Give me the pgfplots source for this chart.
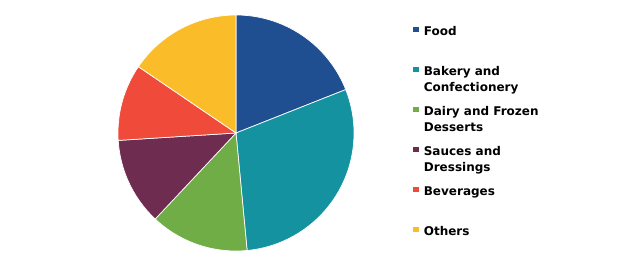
\documentclass[border=0pt]{standalone}
\usepackage{pgfplots}
\pgfplotsset{compat=1.18}
\usepackage{fontspec}
\setmainfont{DejaVu Sans}
\definecolor{cFood}{HTML}{1F4E91}
\definecolor{cBak}{HTML}{1592A0}
\definecolor{cDai}{HTML}{70AD47}
\definecolor{cSau}{HTML}{6E2C50}
\definecolor{cBev}{HTML}{F04A3A}
\definecolor{cOth}{HTML}{FBBC2A}
\begin{document}
\begin{tikzpicture}[x=1bp,y=1bp]
\path[use as bounding box] (0,0) rectangle (620,270);
% shares (%): Food 19, Bakery 29.5, Dairy 13.5, Sauces 12, Beverages 10.5, Others 15.5
\begin{axis}[
  at={(236bp,137bp)}, anchor=center,
  scale only axis, width=236bp, height=236bp,
  xmin=-1, xmax=1, ymin=-1, ymax=1,
  hide axis, clip=false,
  legend cell align=left,
  legend image code/.code={\fill[#1] (1bp,2.5bp) rectangle (8bp,8.5bp);},
  legend style={draw=none, fill=none, at={(1.2455,0.953)}, anchor=north west,
    row sep=3bp, column sep=0bp, inner sep=0pt,
    nodes={inner sep=0pt, text height=9bp, text depth=28bp, anchor=base west,
      font=\fontsize{12bp}{16bp}\selectfont\bfseries}},
]
\addplot[fill=cFood, draw=white, line width=0.7bp, domain=90:21.6, samples=60] ({cos(x)},{sin(x)}) -- (axis cs:0,0) -- cycle;
\addlegendentry{\hspace{4bp}\parbox[t]{150bp}{Food}}
\addplot[fill=cBak, draw=white, line width=0.7bp, domain=21.6:-84.6, samples=80] ({cos(x)},{sin(x)}) -- (axis cs:0,0) -- cycle;
\addlegendentry{\hspace{4bp}\parbox[t]{150bp}{Bakery and\\Confectionery}}
\addplot[fill=cDai, draw=white, line width=0.7bp, domain=-84.6:-133.2, samples=50] ({cos(x)},{sin(x)}) -- (axis cs:0,0) -- cycle;
\addlegendentry{\hspace{4bp}\parbox[t]{150bp}{Dairy and Frozen\\Desserts}}
\addplot[fill=cSau, draw=white, line width=0.7bp, domain=-133.2:-176.4, samples=50] ({cos(x)},{sin(x)}) -- (axis cs:0,0) -- cycle;
\addlegendentry{\hspace{4bp}\parbox[t]{150bp}{Sauces and\\Dressings}}
\addplot[fill=cBev, draw=white, line width=0.7bp, domain=-176.4:-214.2, samples=50] ({cos(x)},{sin(x)}) -- (axis cs:0,0) -- cycle;
\addlegendentry{\hspace{4bp}\parbox[t]{150bp}{Beverages}}
\addplot[fill=cOth, draw=white, line width=0.7bp, domain=-214.2:-270, samples=50] ({cos(x)},{sin(x)}) -- (axis cs:0,0) -- cycle;
\addlegendentry{\hspace{4bp}\parbox[t]{150bp}{Others}}
\end{axis}
\end{tikzpicture}
\end{document}
